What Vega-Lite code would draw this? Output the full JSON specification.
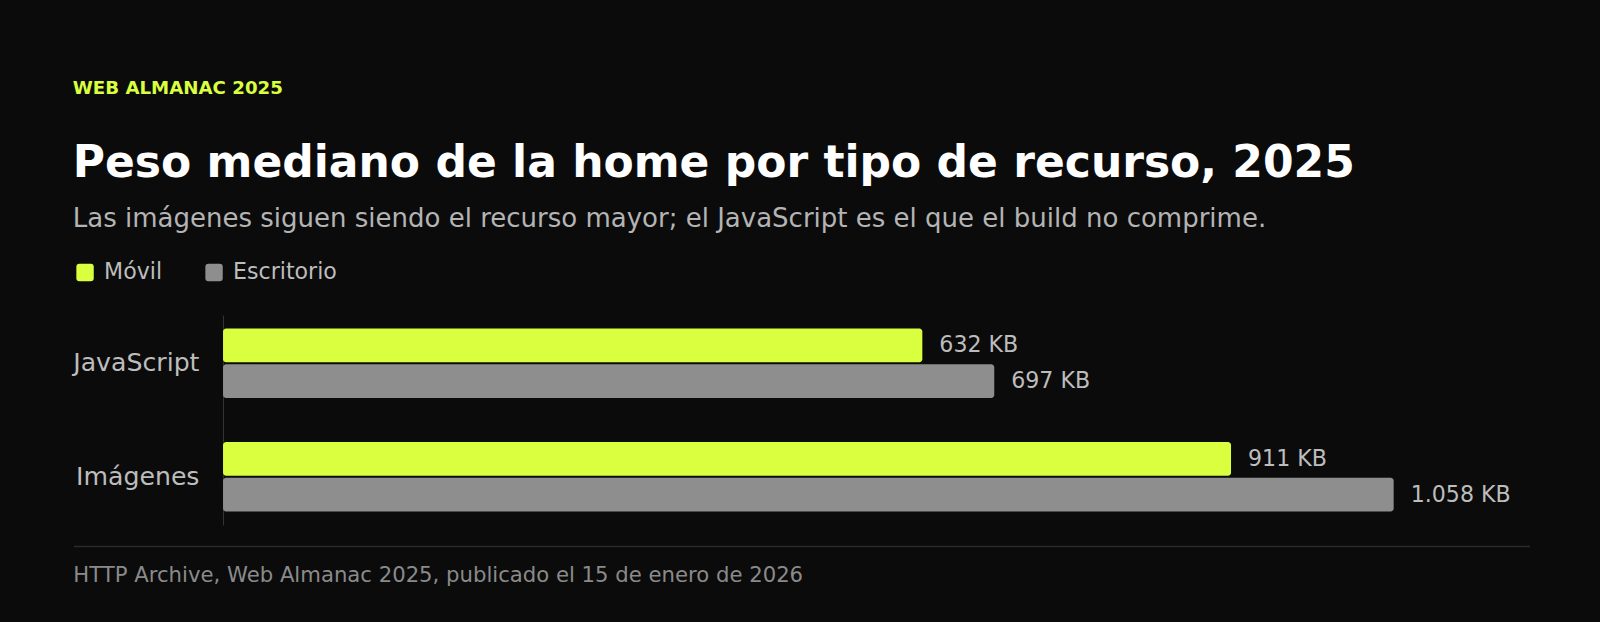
{
  "$schema": "https://vega.github.io/schema/vega-lite/v6.json",
  "background": "#0b0b0b",
  "padding": {"left": 72, "right": 72, "top": 78, "bottom": 40},
  "title": {
    "text": "WEB ALMANAC 2025",
    "anchor": "start",
    "font": "DejaVu Sans",
    "fontSize": 18.2,
    "fontWeight": "bold",
    "color": "#d9ff3f",
    "offset": 44
  },
  "spacing": 20,
  "vconcat": [
    {
      "width": 1456,
      "height": 210,
      "title": {
        "text": "Peso mediano de la home por tipo de recurso, 2025",
        "subtitle": "Las imágenes siguen siendo el recurso mayor; el JavaScript es el que el build no comprime.",
        "anchor": "start",
        "font": "DejaVu Sans",
        "fontSize": 44,
        "fontWeight": "bold",
        "color": "#ffffff",
        "subtitleFont": "DejaVu Sans",
        "subtitleFontSize": 26,
        "subtitleColor": "#b4b4b4",
        "subtitlePadding": 20,
        "offset": 83
      },
      "data": {
        "values": [
          {"tipo": "JavaScript", "dispositivo": "Móvil", "kb": 632},
          {"tipo": "JavaScript", "dispositivo": "Escritorio", "kb": 697},
          {"tipo": "Imágenes", "dispositivo": "Móvil", "kb": 911},
          {"tipo": "Imágenes", "dispositivo": "Escritorio", "kb": 1058}
        ]
      },
      "transform": [
        {"calculate": "format(datum.kb, ',d') + ' KB'", "as": "etiqueta"}
      ],
      "encoding": {
        "y": {
          "field": "tipo",
          "type": "nominal",
          "sort": ["JavaScript", "Imágenes"],
          "scale": {"paddingInner": 0.388, "paddingOuter": 0.12},
          "axis": {
            "title": null,
            "offset": -149,
            "ticks": false,
            "grid": false,
            "domain": true,
            "domainColor": "#333333",
            "domainWidth": 1,
            "labelFont": "DejaVu Sans",
            "labelFontSize": 25.2,
            "labelColor": "#bdbdbd",
            "labelPadding": 24
          }
        },
        "yOffset": {
          "field": "dispositivo",
          "type": "nominal",
          "sort": ["Móvil", "Escritorio"],
          "scale": {"paddingInner": 0.056, "paddingOuter": 0}
        },
        "x": {
          "field": "kb",
          "type": "quantitative",
          "scale": {"domain": [-134.7, 1181.2], "nice": false, "zero": false},
          "axis": null
        }
      },
      "layer": [
        {
          "mark": {"type": "bar", "cornerRadius": 3},
          "encoding": {
            "x2": {"datum": 0},
            "color": {
              "field": "dispositivo",
              "type": "nominal",
              "sort": ["Móvil", "Escritorio"],
              "scale": {"domain": ["Móvil", "Escritorio"], "range": ["#d9ff3f", "#8e8e8e"]},
              "legend": {
                "orient": "none",
                "legendX": 0,
                "legendY": -54,
                "direction": "horizontal",
                "title": null,
                "symbolType": "M-0.65,-1H0.65Q1,-1 1,-0.65V0.65Q1,1 0.65,1H-0.65Q-1,1 -1,0.65V-0.65Q-1,-1 -0.65,-1Z",
                "symbolSize": 303,
                "symbolStrokeWidth": 0,
                "symbolOpacity": 1,
                "labelFont": "DejaVu Sans",
                "labelFontSize": 22.1,
                "labelColor": "#bdbdbd",
                "labelOffset": 8,
                "columnPadding": 40,
                "padding": 0
              }
            }
          }
        },
        {
          "mark": {
            "type": "text",
            "align": "left",
            "baseline": "middle",
            "dx": 17,
            "font": "DejaVu Sans",
            "fontSize": 22.1,
            "color": "#bdbdbd"
          },
          "encoding": {
            "text": {"field": "etiqueta", "type": "nominal"}
          }
        }
      ]
    },
    {
      "width": 1456,
      "height": 1,
      "data": {"values": [{"desde": 0, "hasta": 1}]},
      "title": {
        "text": "HTTP Archive, Web Almanac 2025, publicado el 15 de enero de 2026",
        "orient": "bottom",
        "anchor": "start",
        "font": "DejaVu Sans",
        "fontSize": 21.2,
        "fontWeight": "normal",
        "color": "#8a8a8a",
        "offset": 18
      },
      "mark": {"type": "rule", "color": "#2a2a2a", "strokeWidth": 1.5},
      "encoding": {
        "x": {"field": "desde", "type": "quantitative", "scale": {"domain": [0, 1]}, "axis": null},
        "x2": {"field": "hasta"}
      }
    }
  ],
  "config": {
    "font": "DejaVu Sans",
    "view": {"stroke": null},
    "locale": {
      "number": {"decimal": ",", "thousands": ".", "grouping": [3], "currency": ["", " €"]}
    }
  }
}
